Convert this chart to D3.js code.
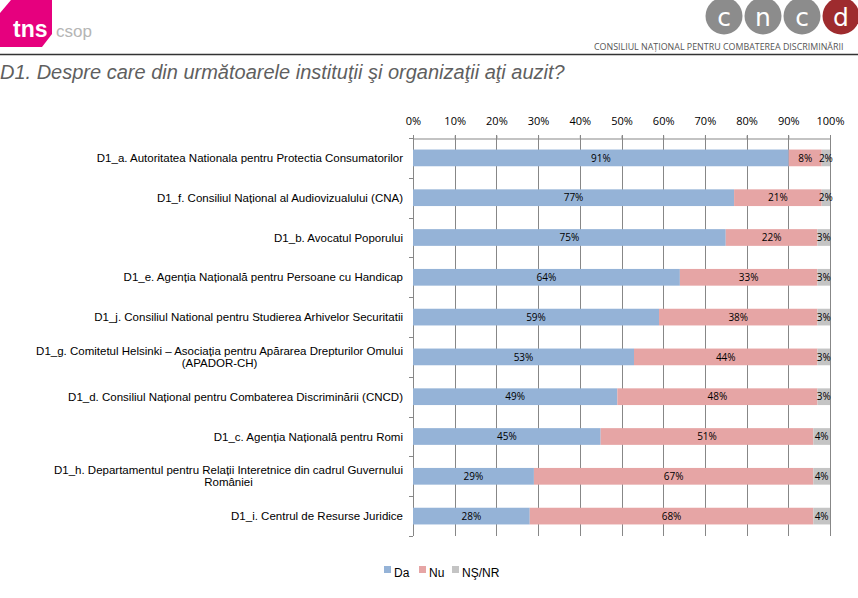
<!DOCTYPE html>
<html>
<head>
<meta charset="utf-8">
<script src="https://cdn.jsdelivr.net/npm/d3@7"></script>
<style>
  body { margin: 0; background: #fff; }
  svg { display: block; }
</style>
</head>
<body>
<div id="chart"></div>
<script>
// categories, top to bottom (\n marks the wrapped labels)
const categories = [
    "D1_a. Autoritatea Nationala pentru Protectia Consumatorilor",
    "D1_f. Consiliul Național al Audiovizualului (CNA)",
    "D1_b. Avocatul Poporului",
    "D1_e. Agenția Națională pentru Persoane cu Handicap",
    "D1_j. Consiliul National pentru Studierea Arhivelor Securitatii",
    "D1_g. Comitetul Helsinki – Asociația pentru Apărarea Drepturilor Omului\n(APADOR-CH)",
    "D1_d. Consiliul Național pentru Combaterea Discriminării (CNCD)",
    "D1_c. Agenția Națională pentru Romi",
    "D1_h. Departamentul pentru Relații Interetnice din cadrul Guvernului\nRomâniei",
    "D1_i. Centrul de Resurse Juridice"
];
const da   = [91, 77, 75, 64, 59, 53, 49, 45, 29, 28];
const nu   = [8, 21, 22, 33, 38, 44, 48, 51, 67, 68];
const nsnr = [2, 2, 3, 3, 3, 3, 3, 4, 4, 4];

const seriesNames = ["Da", "Nu", "NŞ/NR"];
const seriesColors = ["#95b3d7", "#e6a5a5", "#c4c4c4"];
const tickValues = [0, 0.1, 0.2, 0.3, 0.4, 0.5, 0.6, 0.7, 0.8, 0.9, 1];

const width = 858, height = 598;
const margin = { top: 138, left: 413, right: 28, bottom: 62 };

const svg = d3.select("#chart").append("svg")
    .attr("width", width)
    .attr("height", height);

// ---- header ----
const header = svg.append("g");
header.append("polygon")
    .attr("points", "11,0 52,0 52,34 42,47 0,47 0,13")
    .attr("fill", "#e6007e");
header.append("text")
    .attr("x", 13).attr("y", 37)
    .attr("font-family", "Liberation Sans, Arial, sans-serif")
    .attr("font-size", 23).attr("font-weight", "bold")
    .attr("fill", "#fff")
    .text("tns");
header.append("text")
    .attr("x", 56).attr("y", 37)
    .attr("font-family", "Liberation Sans, Arial, sans-serif")
    .attr("font-size", 17)
    .attr("fill", "#b5b5b5")
    .text("csop");

const logoLetters = ["c", "n", "c", "d"];
const logoX = d3.scaleLinear().domain([0, 3]).range([724, 841]);
header.selectAll("circle.logo")
    .data(logoLetters)
    .join("circle")
    .attr("class", "logo")
    .attr("cx", (d, i) => logoX(i))
    .attr("cy", 16)
    .attr("r", 18.5)
    .attr("fill", (d, i) => i === 3 ? "#9e2b2e" : "#8c8c8c");
header.selectAll("text.logo")
    .data(logoLetters)
    .join("text")
    .attr("class", "logo")
    .attr("x", (d, i) => logoX(i))
    .attr("y", 26)
    .attr("text-anchor", "middle")
    .attr("font-family", "DejaVu Sans, sans-serif")
    .attr("font-size", 25)
    .attr("fill", "#fff")
    .text(d => d);
header.append("text")
    .attr("x", 594).attr("y", 50)
    .attr("font-family", "Open Sans, sans-serif")
    .attr("font-size", 8.9)
    .attr("fill", "#555")
    .text("CONSILIUL NAȚIONAL PENTRU COMBATEREA DISCRIMINĂRII");

header.append("line")
    .attr("x1", 0).attr("x2", width)
    .attr("y1", 54.5).attr("y2", 54.5)
    .attr("stroke", "#333").attr("stroke-width", 1.5);

svg.append("text")
    .attr("x", 0).attr("y", 79)
    .attr("font-family", "Liberation Sans, Arial, sans-serif")
    .attr("font-size", 20).attr("font-style", "italic")
    .attr("fill", "#5f5f5f")
    .text("D1. Despre care din următoarele instituţii şi organizaţii aţi auzit?");

// ---- chart ----
const rows = categories.map((c, i) => ({ cat: c, Da: da[i], Nu: nu[i], "NŞ/NR": nsnr[i] }));
const stacked = d3.stack().keys(seriesNames).offset(d3.stackOffsetExpand)(rows);

const x = d3.scaleLinear().domain([0, 1]).range([margin.left, width - margin.right]);
const y = d3.scaleBand().domain(categories)
    .range([margin.top, height - margin.bottom])
    .paddingInner(0.58).paddingOuter(0.29);
const step = y.step();

// vertical gridlines
svg.append("g")
    .selectAll("line")
    .data(tickValues)
    .join("line")
    .attr("x1", d => Math.round(x(d)) + 0.5)
    .attr("x2", d => Math.round(x(d)) + 0.5)
    .attr("y1", margin.top - 3)
    .attr("y2", height - margin.bottom)
    .attr("stroke", "#878787")
    .attr("stroke-width", 1);

// top axis
const xAxis = svg.append("g")
    .attr("transform", `translate(0,${margin.top + 0.5})`)
    .call(d3.axisTop(x).tickValues(tickValues).tickFormat(d3.format(".0%")).tickSize(3).tickPadding(11));
xAxis.select(".domain").attr("stroke", "#878787");
xAxis.selectAll(".tick line").attr("stroke", "#878787");
xAxis.selectAll("text")
    .attr("font-family", "Open Sans, sans-serif")
    .attr("font-size", 11)
    .attr("fill", "#000");

// left axis ticks between categories
const boundaries = d3.range(categories.length + 1).map(i => margin.top + i * step);
svg.append("g")
    .selectAll("line")
    .data(boundaries)
    .join("line")
    .attr("x1", margin.left - 4)
    .attr("x2", margin.left)
    .attr("y1", d => Math.round(d) + 0.5)
    .attr("y2", d => Math.round(d) + 0.5)
    .attr("stroke", "#878787");

// bars
const layers = svg.append("g")
    .selectAll("g")
    .data(stacked)
    .join("g")
    .attr("fill", (d, i) => seriesColors[i]);

layers.selectAll("rect")
    .data(d => d.map(v => ({ v, key: d.key })))
    .join("rect")
    .attr("x", d => x(d.v[0]))
    .attr("width", d => x(d.v[1]) - x(d.v[0]))
    .attr("y", d => y(d.v.data.cat))
    .attr("height", y.bandwidth());

// data labels
layers.selectAll("text")
    .data(d => d.map(v => ({ v, key: d.key })))
    .join("text")
    .attr("x", d => (x(d.v[0]) + x(d.v[1])) / 2)
    .attr("y", d => y(d.v.data.cat) + y.bandwidth() / 2 + 3.7)
    .attr("text-anchor", "middle")
    .attr("font-family", "Open Sans, sans-serif")
    .attr("font-size", 10)
    .attr("fill", "#000")
    .text(d => d.v.data[d.key] + "%");

// category labels
const labelX = margin.left - 10;
const catLabels = svg.append("g")
    .attr("font-family", "Liberation Sans, Arial, sans-serif")
    .attr("font-size", 11.5)
    .attr("fill", "#000");

categories.forEach(cat => {
    const lines = cat.split("\n");
    const cy = y(cat) + y.bandwidth() / 2;
    const lh = 12;
    const t0 = cy - (lines.length - 1) * lh / 2 + 4;
    const first = catLabels.append("text")
        .attr("x", labelX).attr("y", t0)
        .attr("text-anchor", "end")
        .text(lines[0]);
    if (lines.length > 1) {
        const w = first.node().getComputedTextLength();
        lines.slice(1).forEach((ln, k) => {
            catLabels.append("text")
                .attr("x", labelX - w / 2)
                .attr("y", t0 + (k + 1) * lh)
                .attr("text-anchor", "middle")
                .text(ln);
        });
    }
});

// legend
const legend = svg.append("g")
    .attr("font-family", "Liberation Sans, Arial, sans-serif")
    .attr("font-size", 12);
const legendX = [384, 419, 452];
seriesNames.forEach((name, i) => {
    legend.append("rect")
        .attr("x", legendX[i]).attr("y", 566)
        .attr("width", 7).attr("height", 7)
        .attr("fill", seriesColors[i]);
    legend.append("text")
        .attr("x", legendX[i] + 10).attr("y", 577)
        .attr("fill", "#000")
        .text(name);
});
</script>
</body>
</html>
